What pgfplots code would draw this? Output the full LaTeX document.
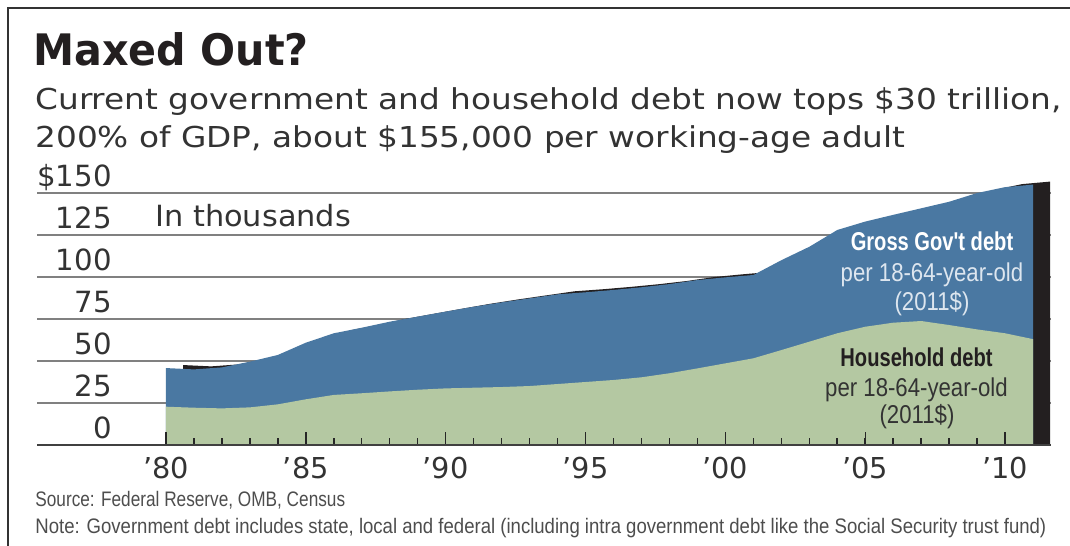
\documentclass[border=0pt]{standalone}
\usepackage{fontspec}
\usepackage{pgfplots}
\usepackage{pgfplotstable}
\pgfplotsset{compat=1.18}
\setmainfont{DejaVu Sans}
\newfontfamily\titlef[FakeStretch=0.95]{DejaVu Sans}
\newfontfamily\subf[FakeStretch=1.137]{DejaVu Sans}
\newfontfamily\thouf[FakeStretch=1.04]{DejaVu Sans}
\newfontfamily\condb[FakeStretch=0.78]{Liberation Sans}
\newfontfamily\condr[FakeStretch=0.86]{Liberation Sans}
\newfontfamily\footf[FakeStretch=0.82]{Liberation Sans}
\newfontfamily\notef[FakeStretch=0.884]{Liberation Sans}
\definecolor{govblue}{HTML}{4A78A2}
\definecolor{hhgreen}{HTML}{B4C8A2}
\definecolor{darkface}{HTML}{231F20}
\definecolor{txt}{HTML}{333333}
\definecolor{govlight}{HTML}{DDE6EF}
\definecolor{foot}{HTML}{4D4D4D}

\pgfplotsset{
  layers/mylayers/.define layer set={axis background,axis grid,main,axis ticks,axis lines,axis tick labels,axis descriptions,axis foreground}{
    grid style={/pgfplots/on layer=axis grid},
    tick style={/pgfplots/on layer=axis ticks},
    axis line style={/pgfplots/on layer=axis lines},
    ticklabel style={/pgfplots/on layer=axis tick labels},
  },
}

\pgfplotstableread{
year hh total
1980 22.8 45.8
1981 22.2 45.0
1982 21.8 46.2
1983 22.4 49.6
1984 24.2 53.6
1985 27.2 60.9
1986 29.8 66.5
1987 30.8 69.8
1988 31.9 73.4
1989 32.9 76.4
1990 33.7 79.4
1991 34.1 82.3
1992 34.5 84.9
1993 35.1 87.3
1994 36.3 89.7
1995 37.5 90.9
1996 38.7 92.3
1997 40.3 93.9
1998 42.7 95.8
1999 45.6 98.2
2000 48.6 99.8
2001 51.6 101.2
2002 56.5 110.0
2003 61.5 118.0
2004 66.5 128.0
2005 70.4 133.0
2006 72.8 137.0
2007 73.8 140.9
2008 71.4 144.8
2009 68.8 150.0
2010 66.5 153.5
2011 63.0 155.0
}\debt

\begin{document}
\begin{tikzpicture}
\begin{axis}[
  set layers=mylayers,
  at={(18.5bp,-222.5bp)}, anchor=south west,
  scale only axis, width=507bp, height=134.4bp,
  xmin=1975.39, xmax=2011.64, ymin=0, ymax=160,
  axis x line*=bottom, axis y line*=left,
  x axis line style={-, draw=black!75, line width=0.75bp},
  y axis line style={-, draw=none},
  xtick={1980,1985,...,2010},
  xticklabels={’80,’85,’90,’95,’00,’05,’10},
  minor xtick={1981,...,2009},
  tick align=inside,
  major tick length=6.5bp, minor tick length=3.3bp,
  xtick style={draw=black!85, line width=0.75bp},
  ytick={0,25,...,150},
  yticklabels={0,25,50,75,100,125,\$150},
  ytick style={draw=none},
  ymajorgrids, grid style={draw=black!50, line width=0.8bp},
  xticklabel style={font=\fontsize{14.4bp}{16bp}\selectfont, text=txt, anchor=base, inner sep=0pt, yshift=-16.5bp},
  yticklabel style={font=\fontsize{14.6bp}{16bp}\selectfont, text=txt, anchor=base east, inner sep=0pt, xshift=37.5bp, yshift=3.25bp},
]
\addplot[draw=none, fill=darkface] table[x expr=\thisrow{year}+0.61, y expr=\thisrow{total}+1.8] {\debt} \closedcycle;
\addplot[draw=none, fill=govblue] table[x=year, y=total] {\debt} \closedcycle;
\addplot[draw=none, fill=hhgreen] table[x=year, y=hh] {\debt} \closedcycle;
\end{axis}
\begin{scope}[x=0.5bp,y=-0.5bp]
  \draw[line width=1bp, black!80] (8,546) -- (8,8) -- (1070,8);
  \node[anchor=base west, inner sep=0pt, text=darkface] at (33,65) {\titlef\bfseries\fontsize{21.7bp}{24bp}\selectfont Maxed Out?};
  \node[anchor=base west, inner sep=0pt, text=txt] at (35,110) {\subf\fontsize{14.4bp}{16bp}\selectfont Current government and household debt now tops \$30 trillion,};
  \node[anchor=base west, inner sep=0pt, text=txt] at (35,148) {\subf\fontsize{14.4bp}{16bp}\selectfont 200\% of GDP, about \$155,000 per working-age adult};
  \node[anchor=base west, inner sep=0pt, text=txt] at (155,226.7) {\thouf\fontsize{14.6bp}{16bp}\selectfont In thousands};
  % annotations
  \node[anchor=base, inner sep=0pt, text=white] at (932,250.7) {\condb\bfseries\fontsize{12.9bp}{14bp}\selectfont Gross Gov't debt};
  \node[anchor=base, inner sep=0pt, text=govlight] at (932,281.7) {\condr\fontsize{12.9bp}{14bp}\selectfont per 18-64-year-old};
  \node[anchor=base, inner sep=0pt, text=govlight] at (932,310.7) {\condr\fontsize{12.9bp}{14bp}\selectfont (2011\$)};
  \node[anchor=base, inner sep=0pt, text=darkface] at (916.5,366.7) {\condb\bfseries\fontsize{12.9bp}{14bp}\selectfont Household debt};
  \node[anchor=base, inner sep=0pt, text=txt] at (916.5,396.7) {\condr\fontsize{12.9bp}{14bp}\selectfont per 18-64-year-old};
  \node[anchor=base, inner sep=0pt, text=txt] at (917,424) {\condr\fontsize{12.9bp}{14bp}\selectfont (2011\$)};
  % footnotes
  \node[anchor=base west, inner sep=0pt, text=foot] at (35,506.7) {\footf\fontsize{10.5bp}{12bp}\selectfont Source: Federal Reserve, OMB, Census};
  \node[anchor=base west, inner sep=0pt, text=foot] at (35,533.3) {\notef\fontsize{10.5bp}{12bp}\selectfont Note: Government debt includes state, local and federal (including intra government debt like the Social Security trust fund)};
\end{scope}
\pgfresetboundingbox
\path[use as bounding box] (0,0) rectangle (535bp,-273bp);
\end{tikzpicture}
\end{document}
